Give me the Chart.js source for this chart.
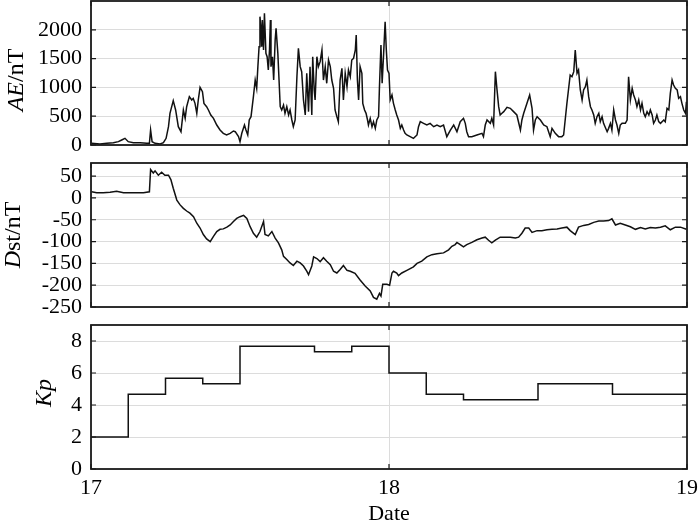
<!DOCTYPE html>
<html>
<head>
<meta charset="utf-8">
<script src="https://cdn.jsdelivr.net/npm/chart.js@4.4.1/dist/chart.umd.min.js"></script>
<style>
  html, body { margin: 0; background: #fff; overflow: hidden; }
  #wrap { position: relative; width: 700px; height: 527px; overflow: hidden; }
  #wrap canvas { position: absolute; left: 0; }
</style>
</head>
<body>
<div id="wrap">
  <canvas id="aeChart" width="740" height="567" style="top:-40px"></canvas>
  <canvas id="dstChart" width="740" height="527" style="top:0"></canvas>
  <canvas id="kpChart" width="740" height="527" style="top:0"></canvas>
</div>
<script>
const dayTicks = [17, 18, 19];
const aeTicks = [0, 500, 1000, 1500, 2000];
const dstTicks = [-250, -200, -150, -100, -50, 0, 50];
const kpTicks = [0, 2, 4, 6, 8];

// AE index (nT), time in decimal day
const aeTime = [
  17.002, 17.030, 17.053, 17.075, 17.092, 17.103, 17.114, 17.125, 17.142, 17.165,
  17.187, 17.196, 17.200, 17.205, 17.215, 17.232, 17.243, 17.252, 17.260, 17.265,
  17.276, 17.284, 17.293, 17.302, 17.310, 17.316, 17.321, 17.330, 17.338, 17.343,
  17.349, 17.355, 17.360, 17.366, 17.374, 17.379, 17.388, 17.394, 17.402, 17.411,
  17.422, 17.433, 17.444, 17.455, 17.467, 17.478,
  17.484, 17.495, 17.500, 17.506, 17.515, 17.520, 17.526, 17.531, 17.537, 17.545,
  17.551, 17.556, 17.560, 17.564, 17.567, 17.571, 17.573, 17.575, 17.579, 17.582,
  17.587, 17.591, 17.595, 17.599, 17.602, 17.604, 17.609, 17.613, 17.618, 17.621,
  17.627, 17.631, 17.635, 17.640, 17.646, 17.651, 17.657, 17.663, 17.668, 17.674,
  17.679, 17.685, 17.691, 17.696, 17.702, 17.707, 17.713, 17.719, 17.724, 17.730,
  17.735, 17.741, 17.744, 17.749, 17.752, 17.758, 17.763, 17.769, 17.775, 17.780,
  17.786, 17.791, 17.797, 17.803, 17.808, 17.814, 17.819, 17.825, 17.830, 17.836,
  17.842, 17.847, 17.853, 17.859, 17.864, 17.870, 17.875, 17.881, 17.887, 17.890,
  17.894, 17.898, 17.903, 17.909, 17.912, 17.918, 17.923, 17.928, 17.931, 17.937,
  17.943, 17.948, 17.954, 17.959, 17.965, 17.968, 17.973, 17.977, 17.982, 17.987,
  17.991, 17.995, 18.000, 18.004, 18.010, 18.015,
  18.021, 18.026, 18.032, 18.038, 18.043, 18.049, 18.054, 18.060, 18.071, 18.082,
  18.094, 18.099, 18.105, 18.116, 18.127, 18.138, 18.150, 18.161, 18.172, 18.183,
  18.194, 18.206, 18.217, 18.228, 18.239, 18.250, 18.256, 18.261, 18.267, 18.278,
  18.295, 18.312, 18.317, 18.323, 18.329, 18.340, 18.345, 18.351, 18.357, 18.362,
  18.368, 18.373, 18.379, 18.385, 18.396, 18.407, 18.418, 18.429, 18.441, 18.446,
  18.452, 18.463, 18.472, 18.480, 18.485, 18.491, 18.497, 18.508, 18.519, 18.530,
  18.541, 18.547, 18.558, 18.569, 18.580, 18.586, 18.597, 18.608, 18.614, 18.620,
  18.625, 18.631, 18.636, 18.642, 18.648, 18.653, 18.659, 18.664, 18.670, 18.676,
  18.681, 18.687, 18.692, 18.698, 18.704, 18.709, 18.715, 18.720, 18.732, 18.737,
  18.743, 18.748, 18.754, 18.760, 18.765, 18.771, 18.776, 18.782, 18.793, 18.799,
  18.804, 18.810, 18.816, 18.821, 18.827, 18.832, 18.838, 18.844, 18.849, 18.855,
  18.860, 18.866, 18.872, 18.877, 18.883, 18.888, 18.894, 18.899, 18.905, 18.911,
  18.922, 18.927, 18.933, 18.939, 18.944, 18.950, 18.955, 18.961, 18.967, 18.972,
  18.978, 18.983, 18.989, 18.995, 18.998
];
const aeValue = [
  29, 17, 29, 40, 58, 87, 116, 58, 40, 40,
  29, 29, 260, 58, 29, 17, 40, 116, 318, 550,
  770, 608, 318, 231, 608, 463, 665, 839, 781, 810,
  723, 550, 781, 1001, 926, 723, 665, 608, 521, 463,
  347, 260, 203, 174, 203, 243,
  231, 145, 58, 203, 347, 260, 174, 434, 492, 839,
  1128, 984, 1360, 1707, 2228, 1997, 1707, 2170, 1649, 2286,
  1591, 1533, 1302, 1649, 2170, 1360, 1533, 1128, 1823, 2025,
  1591, 1128, 665, 608, 694, 550, 665, 521, 608, 434,
  318, 434, 1186, 1678, 1360, 1273, 781, 521, 1244, 579,
  1360, 521, 1533, 955, 781, 1533, 1360, 1447, 1649, 1128,
  1360, 1071, 1476, 1360, 1128, 984, 608, 492, 405, 1128,
  1331, 781, 1244, 1013, 1302, 1186, 1476, 1505, 1649, 1910,
  1128, 781, 1360, 1244, 723, 608, 550, 434, 347, 463,
  318, 405, 289, 434, 492, 1013, 1736, 1071, 1591, 2141,
  1649, 1302, 1244, 781, 868, 723,
  608, 521, 434, 289, 347, 260, 203, 174, 145, 116,
  174, 318, 405, 376, 347, 376, 318, 347, 318, 347,
  145, 260, 347, 231, 405, 463, 376, 231, 145, 145,
  174, 203, 145, 347, 434, 376, 463, 347, 1273, 984,
  665, 521, 550, 579, 654, 637, 579, 521, 260, 434,
  550, 723, 868, 637, 260, 434, 492, 434, 347, 318,
  145, 289, 203, 145, 145, 174, 723, 1215, 1186, 1273,
  1649, 1244, 1302, 955, 781, 955, 1013, 1128, 839, 665,
  608, 521, 376, 492, 550, 405, 492, 376, 231, 289,
  376, 260, 608, 434, 347, 203, 347, 376, 376, 434,
  1186, 781, 984, 868, 781, 665, 781, 608, 723, 550,
  492, 579, 521, 608, 521, 376, 434, 521, 405, 376,
  434, 405, 637, 608, 897, 1128, 1042, 984, 955, 810,
  839, 723, 608, 550, 752
];

// Dst index (nT)
const dstTime = [
  17.002, 17.019, 17.041, 17.064, 17.086, 17.109, 17.131, 17.153, 17.176, 17.196,
  17.200, 17.209, 17.215, 17.226, 17.237, 17.248, 17.260, 17.268, 17.276, 17.288,
  17.299, 17.310, 17.321, 17.332, 17.344, 17.355, 17.366, 17.377, 17.388, 17.400,
  17.411, 17.422, 17.433, 17.444, 17.456, 17.467, 17.478, 17.489, 17.500, 17.512,
  17.523, 17.534, 17.545, 17.556, 17.567, 17.579, 17.584, 17.595, 17.607, 17.618,
  17.629, 17.640, 17.646, 17.657, 17.668, 17.679, 17.691, 17.702, 17.713, 17.724,
  17.730, 17.741, 17.747, 17.758, 17.769, 17.780, 17.791, 17.803, 17.814, 17.825,
  17.836, 17.847, 17.859, 17.870, 17.886, 17.903, 17.920, 17.937, 17.948, 17.959,
  17.968, 17.973, 17.979, 17.993, 18.002, 18.010, 18.015, 18.026, 18.032, 18.043,
  18.060, 18.082, 18.094, 18.110, 18.127, 18.144, 18.161, 18.183, 18.200, 18.211,
  18.222, 18.228, 18.239, 18.250, 18.261, 18.278, 18.295, 18.312, 18.323, 18.334,
  18.345, 18.357, 18.373, 18.390, 18.407, 18.424, 18.435, 18.446, 18.457, 18.469,
  18.480, 18.497, 18.513, 18.530, 18.547, 18.564, 18.580, 18.597, 18.608, 18.625,
  18.636, 18.653, 18.670, 18.687, 18.704, 18.720, 18.737, 18.748, 18.760, 18.776,
  18.793, 18.810, 18.827, 18.844, 18.860, 18.877, 18.894, 18.911, 18.927, 18.944,
  18.961, 18.978, 18.998
];
const dstValue = [
  14, 12, 12, 13, 15, 12, 12, 12, 12, 14,
  65, 57, 62, 52, 59, 52, 52, 42, 22, -5,
  -16, -24, -30, -35, -43, -58, -69, -84, -94, -100,
  -88, -77, -72, -71, -67, -62, -54, -47, -43, -40,
  -47, -66, -81, -90, -77, -54, -84, -87, -77, -92,
  -103, -119, -134, -141, -149, -155, -145, -149, -156, -168,
  -176, -156, -135, -139, -146, -137, -145, -153, -168, -172,
  -164, -155, -166, -168, -173, -188, -202, -213, -228, -232,
  -219, -225, -198, -198, -200, -172, -168, -172, -178, -172,
  -166, -158, -150, -145, -135, -130, -128, -126, -119, -111,
  -107, -102, -107, -112, -107, -102, -96, -92, -90, -97,
  -103, -97, -90, -90, -90, -92, -90, -81, -69, -69,
  -79, -75, -75, -73, -72, -71, -69, -67, -75, -84,
  -67, -63, -61, -56, -53, -53, -52, -48, -62, -58,
  -62, -66, -72, -68, -71, -68, -69, -67, -64, -73,
  -67, -67, -72
];

// Kp index, 3-hour values (start of each interval, last point closes the day)
const kpTime = [
  17.000, 17.125, 17.250, 17.375, 17.500, 17.625, 17.750, 17.875,
  18.000, 18.125, 18.250, 18.375, 18.500, 18.625, 18.750, 18.875, 19.000
];
const kpValue = [
  2, 4.67, 5.67, 5.33, 7.67, 7.67, 7.33, 7.67,
  6, 4.67, 4.33, 4.33, 5.33, 5.33, 4.67, 4.67, 4.67
];

const FONT = '"Liberation Serif", "Times New Roman", serif';
const TICK_SIZE = 22;
const TITLE_SIZE = 24;
const PLOT_RIGHT = 687;
Chart.defaults.font.family = FONT;
Chart.defaults.color = '#000';

function toPoints(xs, ys) {
  return xs.map((x, i) => ({ x: x, y: ys[i] }));
}

// box around the plot, inward tick marks and the mixed italic y title
const framePlugin = {
  id: 'frame',
  afterDatasetsDraw(chart, args, opts) {
    const { ctx, chartArea: a, scales } = chart;
    const x = scales.x, y = scales.y;
    ctx.save();
    ctx.strokeStyle = '#1a1a1a';
    ctx.lineWidth = 1.2;
    ctx.beginPath();
    y.ticks.forEach(t => {
      const py = y.getPixelForValue(t.value);
      ctx.moveTo(a.left, py); ctx.lineTo(a.left + 5, py);
      ctx.moveTo(a.right, py); ctx.lineTo(a.right - 5, py);
    });
    x.ticks.forEach(t => {
      const px = x.getPixelForValue(t.value);
      ctx.moveTo(px, a.top); ctx.lineTo(px, a.top + 5);
      ctx.moveTo(px, a.bottom); ctx.lineTo(px, a.bottom - 5);
    });
    ctx.stroke();
    ctx.lineWidth = 1.8;
    ctx.strokeRect(a.left, a.top, a.right - a.left, a.bottom - a.top);

    // y title
    const parts = opts.title || [];
    ctx.translate(opts.titleX, (a.top + a.bottom) / 2 + (opts.titleShift || 0));
    ctx.rotate(-Math.PI / 2);
    ctx.textBaseline = 'middle';
    ctx.textAlign = 'left';
    ctx.fillStyle = '#000';
    const fonts = parts.map(p => (p.italic ? 'italic ' : '') + TITLE_SIZE + 'px ' + FONT);
    let total = 0;
    parts.forEach((p, i) => { ctx.font = fonts[i]; total += ctx.measureText(p.text).width; });
    let cx = -total / 2;
    parts.forEach((p, i) => {
      ctx.font = fonts[i];
      ctx.fillText(p.text, cx, 0);
      cx += ctx.measureText(p.text).width;
    });
    ctx.restore();
  }
};

function makePanel(id, points, cfg) {
  const canvas = document.getElementById(id);
  const showX = !!cfg.showX;
  const xHeight = showX ? canvas.height - cfg.bottom : 0;
  return new Chart(canvas, {
    type: 'line',
    data: {
      datasets: [{
        data: points,
        borderColor: '#111',
        borderWidth: 1.5,
        pointRadius: 0,
        tension: 0,
        stepped: cfg.stepped || false
      }]
    },
    options: {
      responsive: false,
      animation: false,
      events: [],
      layout: {
        autoPadding: false,
        padding: {
          left: 0,
          right: canvas.width - PLOT_RIGHT,
          top: cfg.top,
          bottom: showX ? 0 : canvas.height - cfg.bottom
        }
      },
      plugins: {
        legend: { display: false },
        tooltip: { enabled: false },
        frame: { title: cfg.title, titleX: cfg.titleX, titleShift: cfg.titleShift }
      },
      scales: {
        x: {
          type: 'linear',
          min: 17,
          max: 19,
          afterBuildTicks: s => { s.ticks = dayTicks.map(v => ({ value: v })); },
          afterFit: s => { s.height = xHeight; },
          border: { display: false },
          grid: { color: '#dcdcdc', lineWidth: 1, drawTicks: false },
          ticks: {
            display: showX,
            padding: 6,
            maxRotation: 0,
            autoSkip: false,
            font: { size: TICK_SIZE },
            callback: v => String(v)
          },
          title: {
            display: showX,
            text: 'Date',
            font: { size: 22 },
            padding: { top: 0, bottom: 0 }
          }
        },
        y: {
          min: cfg.min,
          max: cfg.max,
          afterBuildTicks: s => { s.ticks = cfg.ticks.map(v => ({ value: v })); },
          afterFit: s => { s.width = 91; },
          border: { display: false },
          grid: { color: '#dcdcdc', lineWidth: 1, drawTicks: false },
          ticks: { padding: 9, autoSkip: false, font: { size: TICK_SIZE }, callback: v => String(v) }
        }
      }
    },
    plugins: [framePlugin]
  });
}

// the AE canvas is shifted up 40px, so its plot box limits are +40
makePanel('aeChart', toPoints(aeTime, aeValue), {
  top: 41, bottom: 185, min: 0, max: 2500, ticks: aeTicks,
  title: [{ text: 'AE', italic: true }, { text: '/nT' }], titleX: 17, titleShift: 7
});
makePanel('dstChart', toPoints(dstTime, dstValue), {
  top: 163, bottom: 307, min: -250, max: 80, ticks: dstTicks,
  title: [{ text: 'D', italic: true }, { text: 'st/nT' }], titleX: 14
});
makePanel('kpChart', toPoints(kpTime, kpValue), {
  top: 325, bottom: 469, min: 0, max: 9, ticks: kpTicks, stepped: 'before', showX: true,
  title: [{ text: 'Kp', italic: true }], titleX: 45, titleShift: -4
});
</script>
</body>
</html>
